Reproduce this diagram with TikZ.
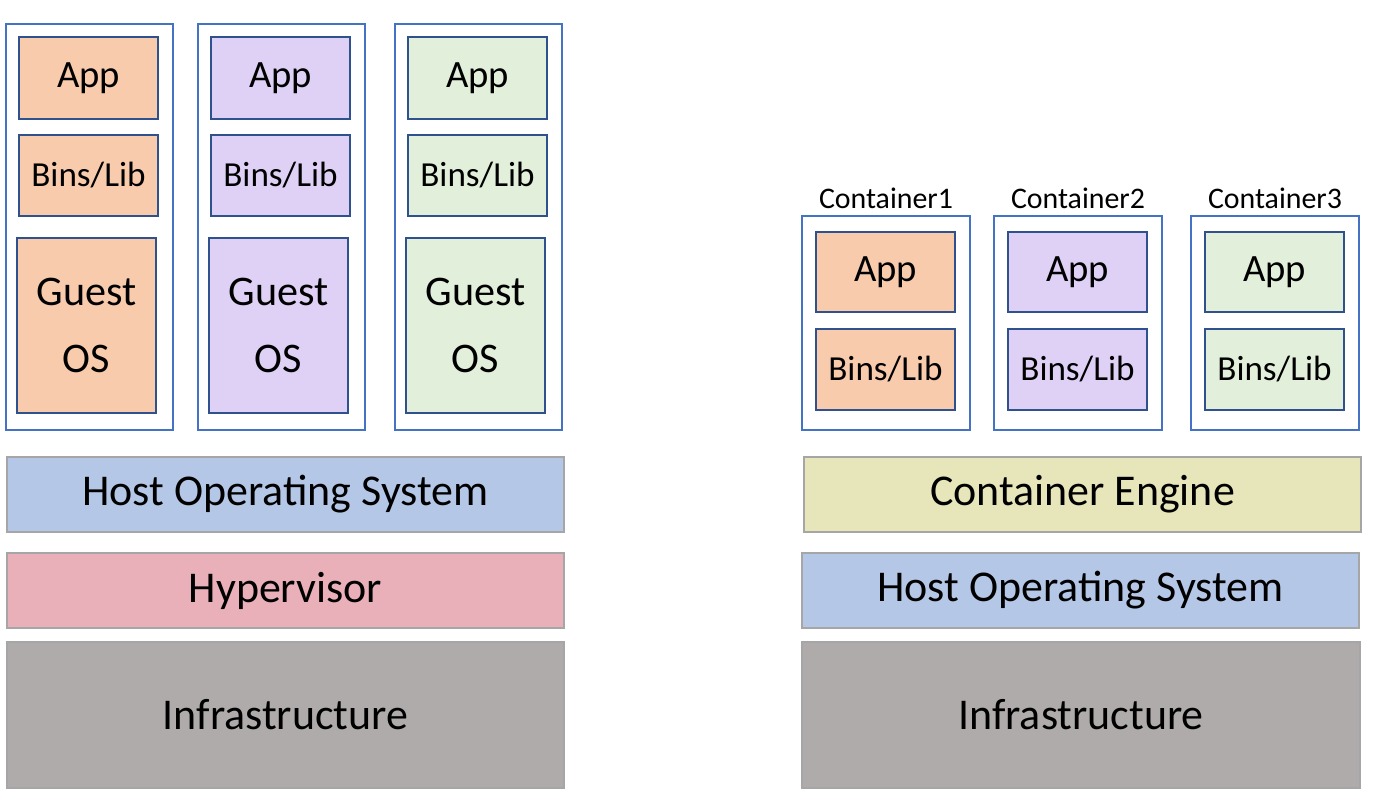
\documentclass[tikz,border=0pt]{standalone}
\usepackage{fontspec}
\setmainfont{Carlito}
\usetikzlibrary{fit}
\definecolor{vmorange}{HTML}{F8CBAD}
\definecolor{vmpurple}{HTML}{DFD1F5}
\definecolor{vmgreen}{HTML}{E2EFDA}
\definecolor{hostblue}{HTML}{B4C7E7}
\definecolor{hyperpink}{HTML}{EAB0BA}
\definecolor{infragray}{HTML}{AFABAB}
\definecolor{engineyellow}{HTML}{E6E6BA}
\definecolor{outerblue}{HTML}{4472C4}
\definecolor{innerblue}{HTML}{2F528F}
\begin{document}
\begin{tikzpicture}[x=0.02cm,y=-0.02cm,
	outer/.style={draw=outerblue, line width=0.8pt, inner sep=0pt},
	inner/.style={draw=innerblue, line width=0.7pt, inner sep=0pt, align=center},
	bar/.style={draw=gray!70, line width=0.7pt, inner sep=0pt, font=\fontsize{25}{30}\selectfont},
	small/.style={font=\fontsize{20}{24}\selectfont}]
	\useasboundingbox (0,0) rectangle (1386,800);

	% virtual machines
	\foreach \dx/\col/\i in {0/vmorange/1, 192/vmpurple/2, 389/vmgreen/3} {
		\node[outer, fit={(6+\dx,24) (173+\dx,430)}] (vm\i) {};
		\node[inner, fill=\col, font=\fontsize{22}{26}\selectfont, fit={(19+\dx,37) (158+\dx,119)}] (vmapp\i) {};
		\node at (vmapp\i) {\fontsize{22}{26}\selectfont App};
		\node[inner, fill=\col, fit={(19+\dx,135) (158+\dx,216)}] (vmlib\i) {};
		\node[small] at (vmlib\i) {Bins/Lib};
		\node[inner, fill=\col, fit={(17+\dx,238) (156+\dx,413)}] (vmos\i) {};
		\node[align=center, font=\fontsize{24}{38}\selectfont] at (vmos\i) {Guest\\OS};
	}

	\node[bar, fill=hostblue, fit={(7,457) (564,532)}] (host) {};
	\node[font=\fontsize{25}{30}\selectfont] at (host) {Host Operating System};
	\node[bar, fill=hyperpink, fit={(7,553) (564,628)}] (hyper) {};
	\node[font=\fontsize{25}{30}\selectfont] at (hyper) {Hypervisor};
	\node[bar, fill=infragray, fit={(7,642) (564,788)}] (infra) {};
	\node[font=\fontsize{25}{30}\selectfont] at (infra) {Infrastructure};

	% containers
	\foreach \dx/\col/\i in {0/vmorange/1, 192/vmpurple/2, 389/vmgreen/3} {
		\node[outer, fit={(802+\dx,216) (970+\dx,430)}] (ct\i) {};
		\node[font=\fontsize{17}{20}\selectfont, anchor=south] at (ct\i.north) {Container\i};
		\node[inner, fill=\col, fit={(816+\dx,232) (955+\dx,312)}] (ctapp\i) {};
		\node at (ctapp\i) {\fontsize{22}{26}\selectfont App};
		\node[inner, fill=\col, fit={(816+\dx,329) (955+\dx,410)}] (ctlib\i) {};
		\node[small] at (ctlib\i) {Bins/Lib};
	}

	\node[bar, fill=engineyellow, fit={(804,457) (1361,532)}] (engine) {};
	\node[font=\fontsize{25}{30}\selectfont] at (engine) {Container Engine};
	\node[bar, fill=hostblue, fit={(802,553) (1359,628)}] (chost) {};
	\node[font=\fontsize{25}{30}\selectfont] at (chost) {Host Operating System};
	\node[bar, fill=infragray, fit={(802,642) (1360,788)}] (cinfra) {};
	\node[font=\fontsize{25}{30}\selectfont] at (cinfra) {Infrastructure};
\end{tikzpicture}
\end{document}
